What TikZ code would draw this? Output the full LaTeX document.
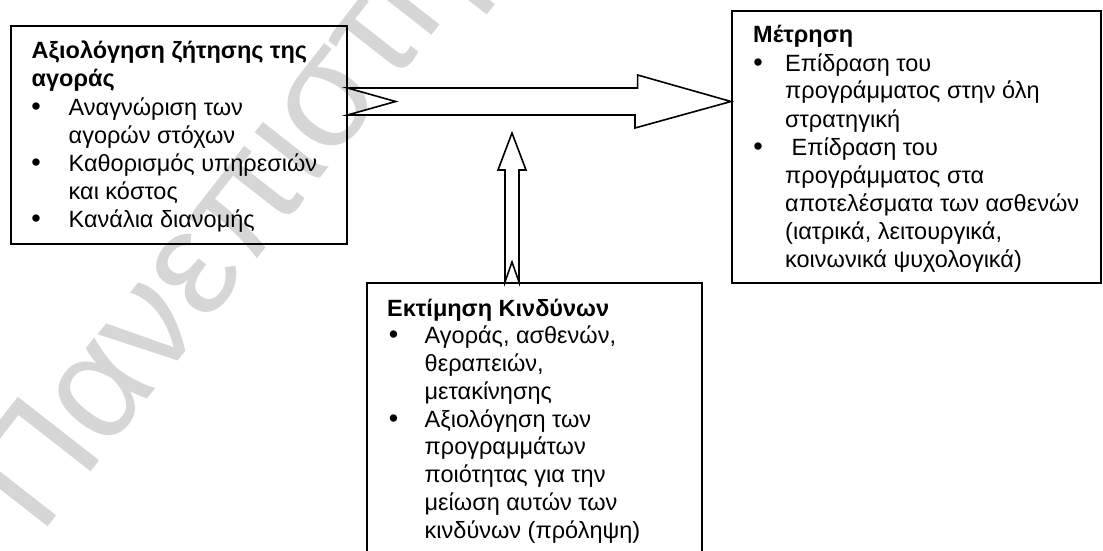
\documentclass[tikz,border=0pt]{standalone}
\usepackage{fontspec}
\setmainfont{Liberation Sans}
\usetikzlibrary{calc}
\tikzset{
 box/.style={draw, line width=2.1pt, rectangle, anchor=north west, inner sep=0pt},
 blockarrow/.style={draw, line width=1.6pt, fill=white, line join=miter},
 txt/.style={anchor=base west, inner sep=0pt, font=\fontsize{23.5}{28}\selectfont},
 ttl/.style={anchor=base west, inner sep=0pt, font=\fontsize{23.5}{28}\selectfont\bfseries},
 bul/.style={anchor=base, inner sep=0pt, font=\fontsize{27}{28}\selectfont},
 watermark/.style={anchor=base west, inner sep=0pt, rotate=52, text=black!16,
   font=\fontsize{150}{150}\selectfont},
}
\begin{document}
\begin{tikzpicture}[x=1pt,y=-1pt]
\useasboundingbox (0,0) rectangle (1103,551);
\clip (0,0) rectangle (1103,551);
\fill[white] (0,0) rectangle (1103,551);
% watermark
\node[watermark] (wm) at (40,537) {Πανεπιστήμιο};
% boxes
\node[box, minimum width=336pt, minimum height=218.5pt] (L) at (9.5,24.8) {};
\node[box, minimum width=369pt, minimum height=272pt] (R) at (731,10) {};
\node[box, minimum width=335pt, minimum height=300pt] (B) at (366,282) {};
% left box text
\node[ttl] (l1) at (31.5,59) {Αξιολόγηση ζήτησης της};
\node[ttl] (l2) at (31.5,87) {αγοράς};
\node[bul] (lb1) at (36,115) {•};
\node[txt] (l3) at (68.5,115) {Αναγνώριση των};
\node[txt] (l4) at (68.5,143) {αγορών στόχων};
\node[bul] (lb2) at (36,171) {•};
\node[txt] (l5) at (68.5,171) {Καθορισμός υπηρεσιών};
\node[txt] (l6) at (68.5,199) {και κόστος};
\node[bul] (lb3) at (36,227) {•};
\node[txt] (l7) at (68.5,227) {Κανάλια διανομής};
% right box text
\node[ttl] (r1) at (753,43) {Μέτρηση};
\node[bul] (rb1) at (758,71) {•};
\node[txt] (r2) at (785,71) {Επίδραση του};
\node[txt] (r3) at (785,99) {προγράμματος στην όλη};
\node[txt] (r4) at (785,127) {στρατηγική};
\node[bul] (rb2) at (758,155) {•};
\node[txt] (r5) at (785,155) {\ Επίδραση του};
\node[txt] (r6) at (785,183) {προγράμματος στα};
\node[txt] (r7) at (785,211) {αποτελέσματα των ασθενών};
\node[txt] (r8) at (785,239) {(ιατρικά, λειτουργικά,};
\node[txt] (r9) at (785,267) {κοινωνικά ψυχολογικά)};
% bottom box text
\node[ttl] (b1) at (387,316) {Εκτίμηση Κινδύνων};
\node[bul] (bb1) at (393.5,343.75) {•};
\node[txt] (b2) at (424.5,343.75) {Αγοράς, ασθενών,};
\node[txt] (b3) at (424.5,371.5) {θεραπειών,};
\node[txt] (b4) at (424.5,399.25) {μετακίνησης};
\node[bul] (bb2) at (393.5,427) {•};
\node[txt] (b5) at (424.5,427) {Αξιολόγηση των};
\node[txt] (b6) at (424.5,454.75) {προγραμμάτων};
\node[txt] (b7) at (424.5,482.5) {ποιότητας για την};
\node[txt] (b8) at (424.5,510.25) {μείωση αυτών των};
\node[txt] (b9) at (424.5,538) {κινδύνων (πρόληψη)};
% horizontal block arrow from L to R
\draw[blockarrow] ($(L.north east)+(0,63.2)$) -- ++(290,0) -- ++(0,-13)
  -- ($(R.north west)+(0,91.5)$) -- ++(-96,26.5) -- ++(0,-13)
  -- ($(L.north east)+(0,90.2)$) -- ($(L.north east)+(48,76.7)$) -- cycle;
% vertical block arrow from B up
\draw[blockarrow] ($(B.north west)+(139,0)$) -- ++(0,-112) -- ++(-7,0)
  -- ++(14,-37) -- ++(14,37) -- ++(-7,0) -- ++(0,112) -- ++(-7,-20) -- cycle;
\end{tikzpicture}
\end{document}
